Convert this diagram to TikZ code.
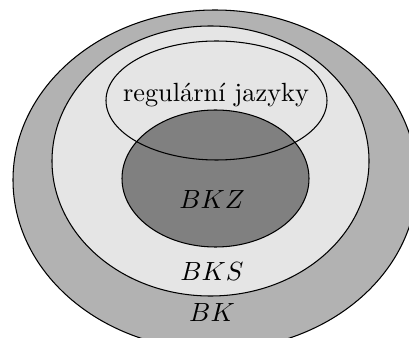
\documentclass[tikz,border=0pt]{standalone}
\begin{document}
\begin{tikzpicture}[x=0.38pt,y=-0.38pt,
  set/.style={draw=black,line width=0.4pt},
  lbl/.style={inner sep=0pt,font=\normalsize}]
\useasboundingbox (0,0) rectangle (409,338);
\begin{scope}
\clip (0,0) rectangle (409,338);
% class BK
\path[set,fill=black!30] (215,180) ellipse [x radius=202,y radius=170];
% class BKS
\path[set,fill=black!10] (210.5,161) ellipse [x radius=158.5,y radius=135];
% class BKZ
\path[set,fill=black!50] (215.5,178.5) ellipse [x radius=93.5,y radius=68.5];
% regular languages
\path[set] (216.5,100.5) ellipse [x radius=110.5,y radius=59.5];
\end{scope}
\node[lbl] (reg) at (216,95) {regulární jazyky};
\node[lbl] (bkz) at (212,200) {$BKZ$};
\node[lbl] (bks) at (212,272) {$BKS$};
\node[lbl] (bk) at (212,313) {$BK$};
\end{tikzpicture}
\end{document}
